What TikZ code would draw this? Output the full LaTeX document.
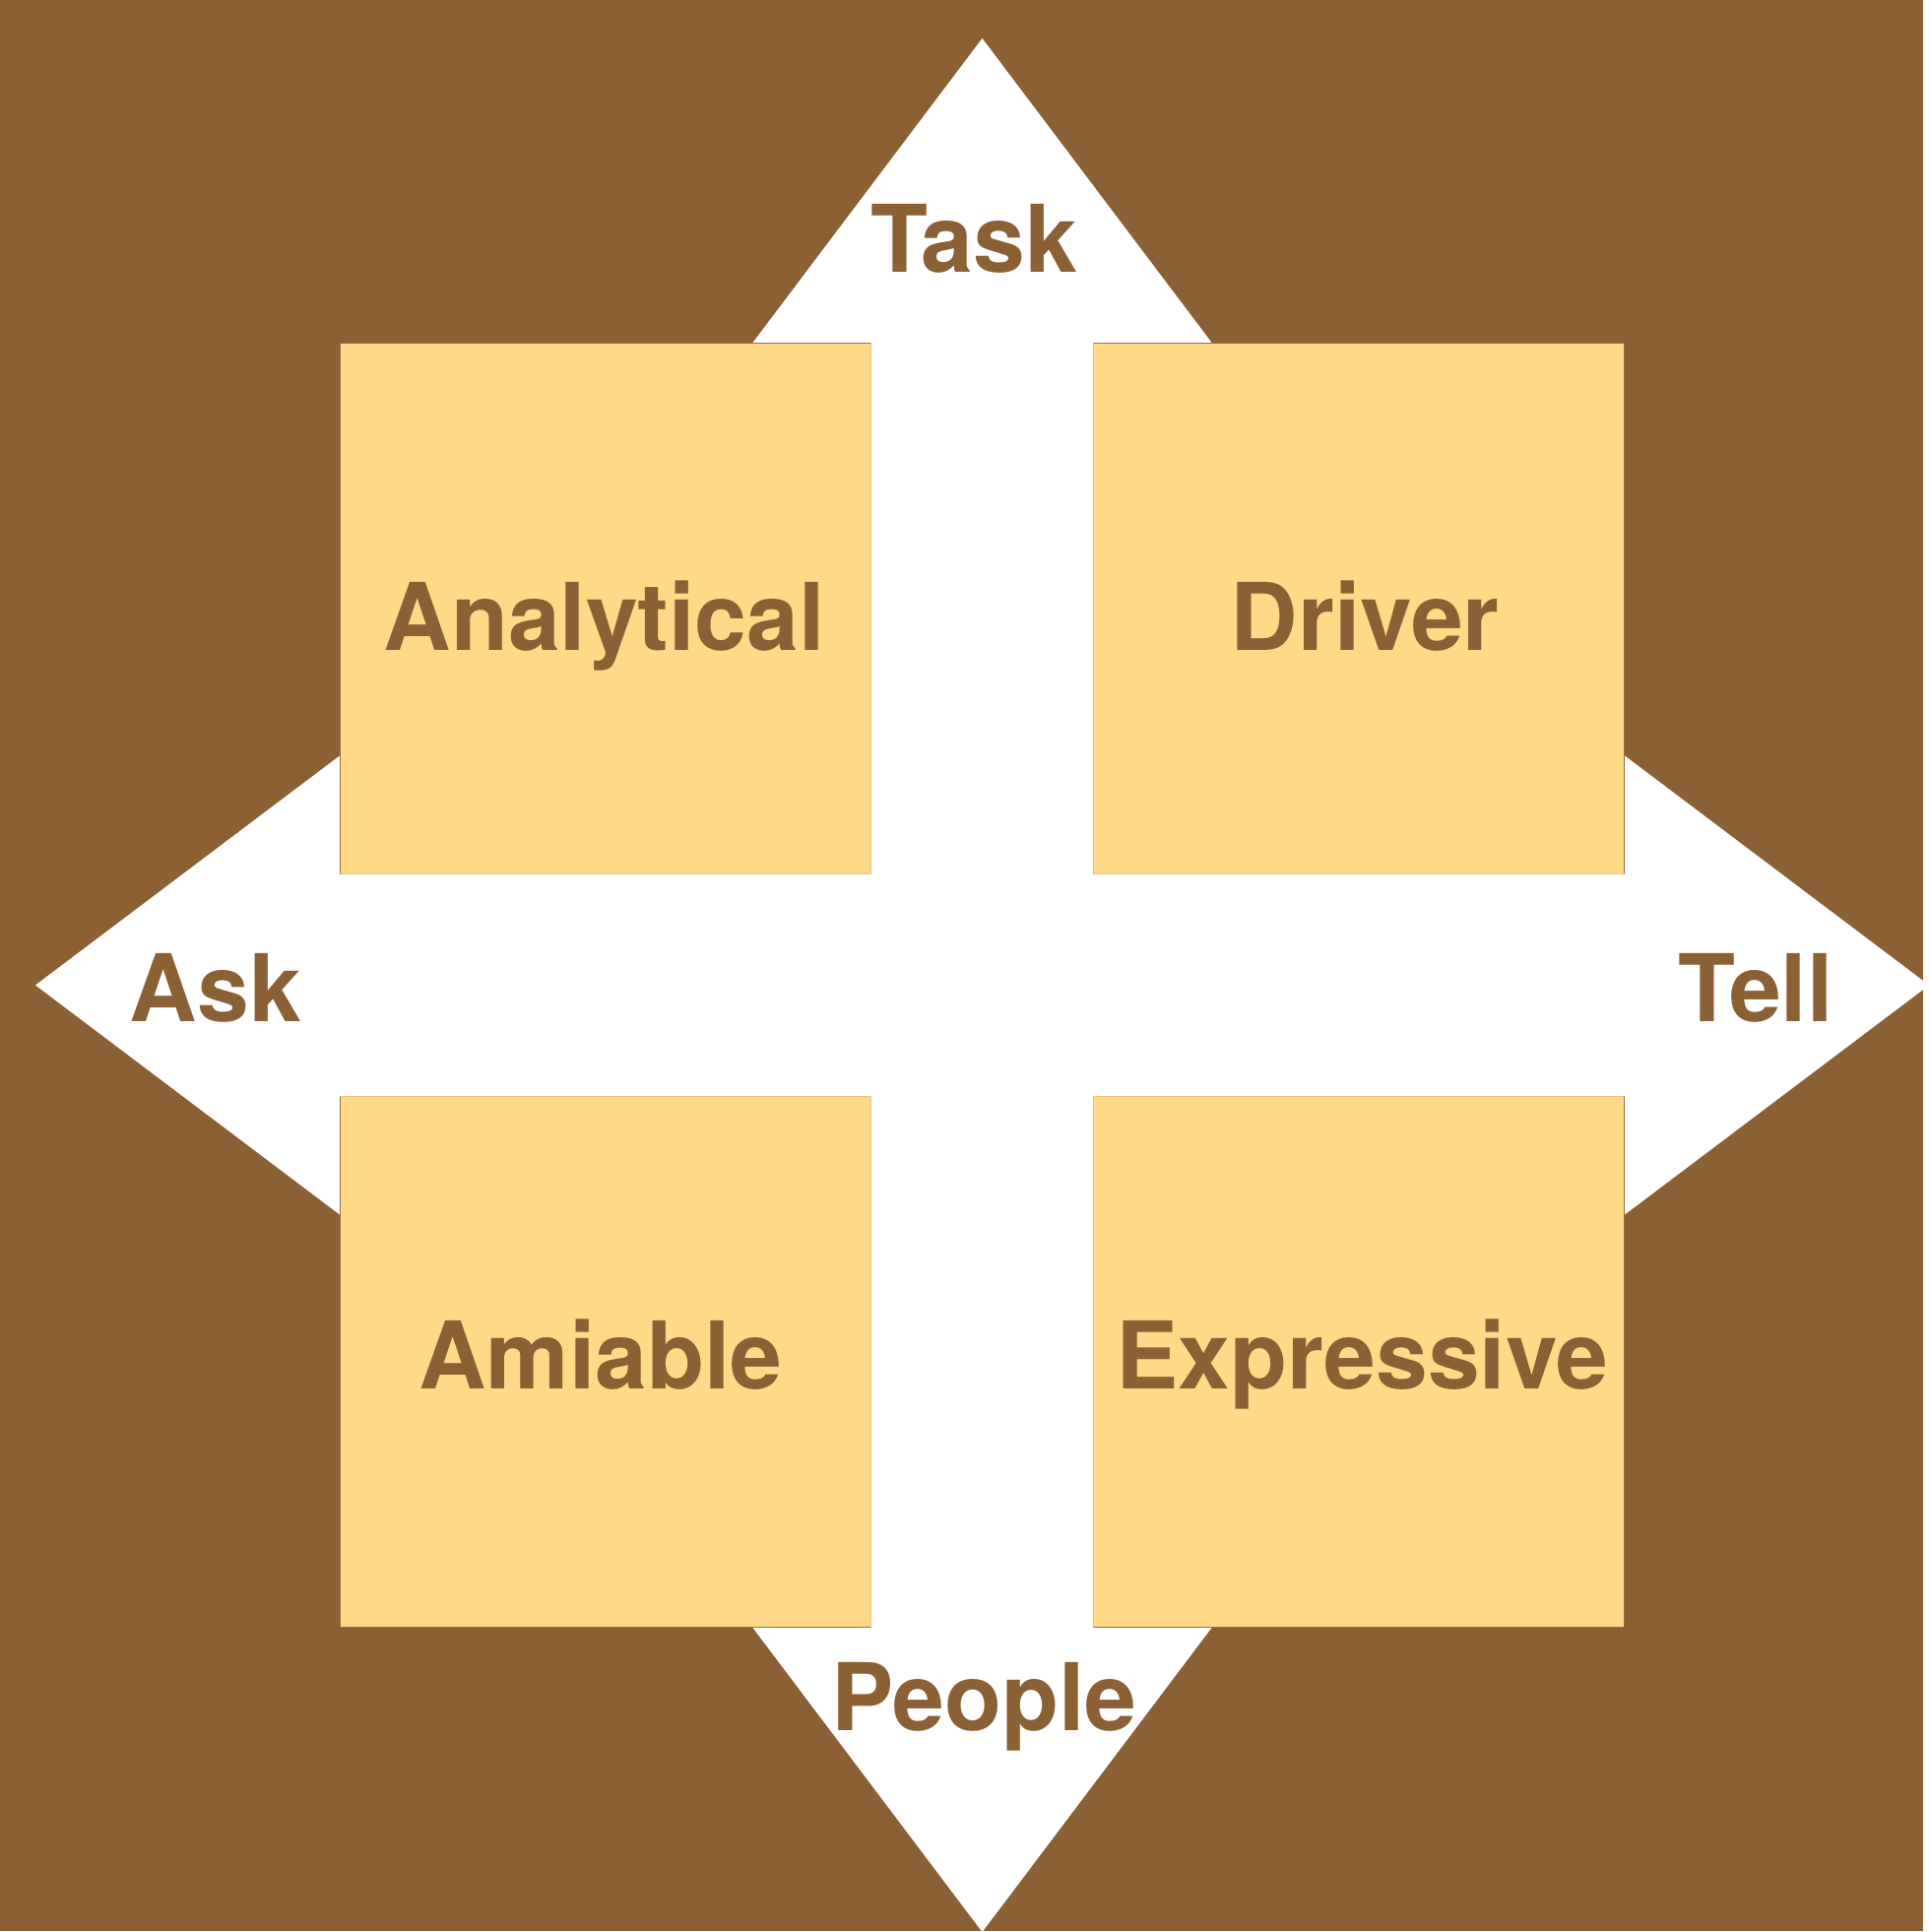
\documentclass[tikz,border=0pt]{standalone}
\usepackage{fontspec}
\setmainfont{TeX Gyre Heros}
\definecolor{bark}{HTML}{8B6035}
\definecolor{sand}{HTML}{FFD987}

\begin{document}
\begin{tikzpicture}[every node/.style={text=bark, inner sep=0pt, anchor=base,
                    font=\bfseries\fontsize{27}{30}\selectfont}]
            % background
            \fill[bark] (0,0) rectangle (19.54,19.62);
            \scope[shift={(9.98,9.61)}]
            % cross of four arrows
            \fill[white] (0,9.62) -- (2.33,6.53) -- (1.13,6.53) -- (1.13,1.13)
                  -- (6.53,1.13) -- (6.53,2.33) -- (9.62,0) -- (6.53,-2.33) -- (6.53,-1.13)
                  -- (1.13,-1.13) -- (1.13,-6.53) -- (2.33,-6.53) -- (0,-9.62) -- (-2.33,-6.53)
                  -- (-1.13,-6.53) -- (-1.13,-1.13) -- (-6.53,-1.13) -- (-6.53,-2.33) -- (-9.62,0)
                  -- (-6.53,2.33) -- (-6.53,1.13) -- (-1.13,1.13) -- (-1.13,6.53) -- (-2.33,6.53)
                  -- cycle;
            % quadrants
            \fill[sand] (-6.52,1.13) rectangle (-1.13,6.52)
                        (1.13,1.13) rectangle (6.52,6.52)
                        (-6.52,-6.52) rectangle (-1.13,-1.13)
                        (1.13,-6.52) rectangle (6.52,-1.13);
            % axis labels
            \node (task) at (-0.08,7.24) {Task};
            \node (people) at (0.02,-7.57) {People};
            \node (ask) at (-7.79,-0.37) {Ask};
            \node (tell) at (7.86,-0.37) {Tell};
            % styles
            \node (analytical) at (-3.84,3.40) {Analytical};
            \node (driver) at (3.89,3.40) {Driver};
            \node (amiable) at (-3.88,-4.10) {Amiable};
            \node (expressive) at (3.86,-4.10) {Expressive};
            \endscope
        \end{tikzpicture}
\end{document}
